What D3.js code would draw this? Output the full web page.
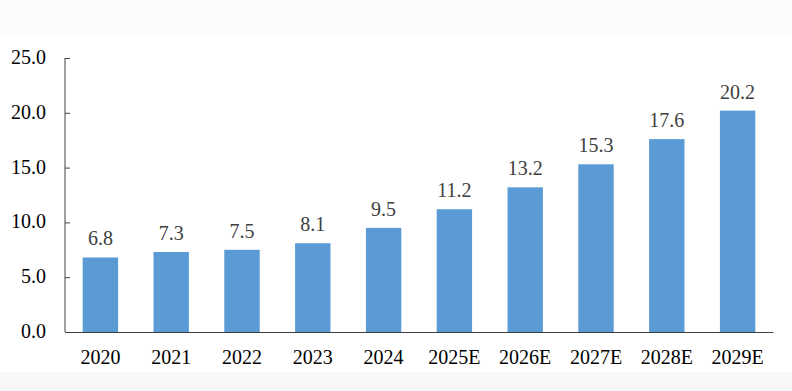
<!DOCTYPE html>
<html>
<head>
<meta charset="utf-8">
<script src="https://cdn.jsdelivr.net/npm/d3@7"></script>
<style>
  body { margin: 0; background: #fff; }
  text { font-family: "Liberation Serif", "Times New Roman", serif; }
</style>
</head>
<body>
<div id="chart"></div>
<script>
// Data
const years = ["2020", "2021", "2022", "2023", "2024", "2025E", "2026E", "2027E", "2028E", "2029E"];
const values = [6.8, 7.3, 7.5, 8.1, 9.5, 11.2, 13.2, 15.3, 17.6, 20.2];
const yTicks = [0, 5, 10, 15, 20, 25];

const width = 792, height = 391;
const margin = { top: 58, right: 19, bottom: 59, left: 65 };

const svg = d3.select("#chart").append("svg")
  .attr("width", width)
  .attr("height", height);

// faint page bands top and bottom
svg.append("rect").attr("x", 0).attr("y", 0).attr("width", width).attr("height", 37).attr("fill", "#fcfcfc");
svg.append("rect").attr("x", 0).attr("y", 372).attr("width", width).attr("height", height - 372).attr("fill", "#f7f7f7");

const x = d3.scaleBand()
  .domain(years)
  .range([margin.left, width - margin.right])
  .paddingInner(0.5)
  .paddingOuter(0.25);

const y = d3.scaleLinear()
  .domain([0, 25])
  .range([height - margin.bottom, margin.top]);

// bars
svg.append("g")
  .selectAll("rect")
  .data(values)
  .enter()
  .append("rect")
  .attr("x", (d, i) => x(years[i]))
  .attr("y", d => y(d))
  .attr("width", x.bandwidth())
  .attr("height", d => y(0) - y(d))
  .attr("fill", "#5b9bd5");

// value labels
svg.append("g")
  .selectAll("text")
  .data(values)
  .enter()
  .append("text")
  .attr("x", (d, i) => x(years[i]) + x.bandwidth() / 2)
  .attr("y", d => y(d) - 12)
  .attr("text-anchor", "middle")
  .attr("font-size", 20)
  .attr("fill", "#404040")
  .text(d => d.toFixed(1));

// y axis (ticks point inward)
const yAxis = svg.append("g")
  .attr("transform", `translate(${margin.left},0)`)
  .call(d3.axisRight(y).tickValues(yTicks).tickSize(5).tickFormat(""));
yAxis.select(".domain").attr("d", `M0,${y(25)}V${y(0)}`).attr("stroke", "#404040");
yAxis.selectAll(".tick line").attr("stroke", "#404040");

svg.append("g")
  .selectAll("text")
  .data(yTicks)
  .enter()
  .append("text")
  .attr("x", 46)
  .attr("y", d => y(d) + 6)
  .attr("text-anchor", "end")
  .attr("font-size", 20)
  .attr("fill", "#000")
  .text(d => d.toFixed(1));

// x axis
const xAxis = svg.append("g")
  .attr("transform", `translate(0,${y(0)})`)
  .call(d3.axisBottom(x).tickSize(0).tickPadding(0));
xAxis.select(".domain").attr("stroke", "#404040");
xAxis.selectAll(".tick text")
  .attr("dy", null)
  .attr("y", 32)
  .attr("font-size", 20)
  .attr("font-family", "Liberation Serif, Times New Roman, serif")
  .attr("fill", "#000");
</script>
</body>
</html>
